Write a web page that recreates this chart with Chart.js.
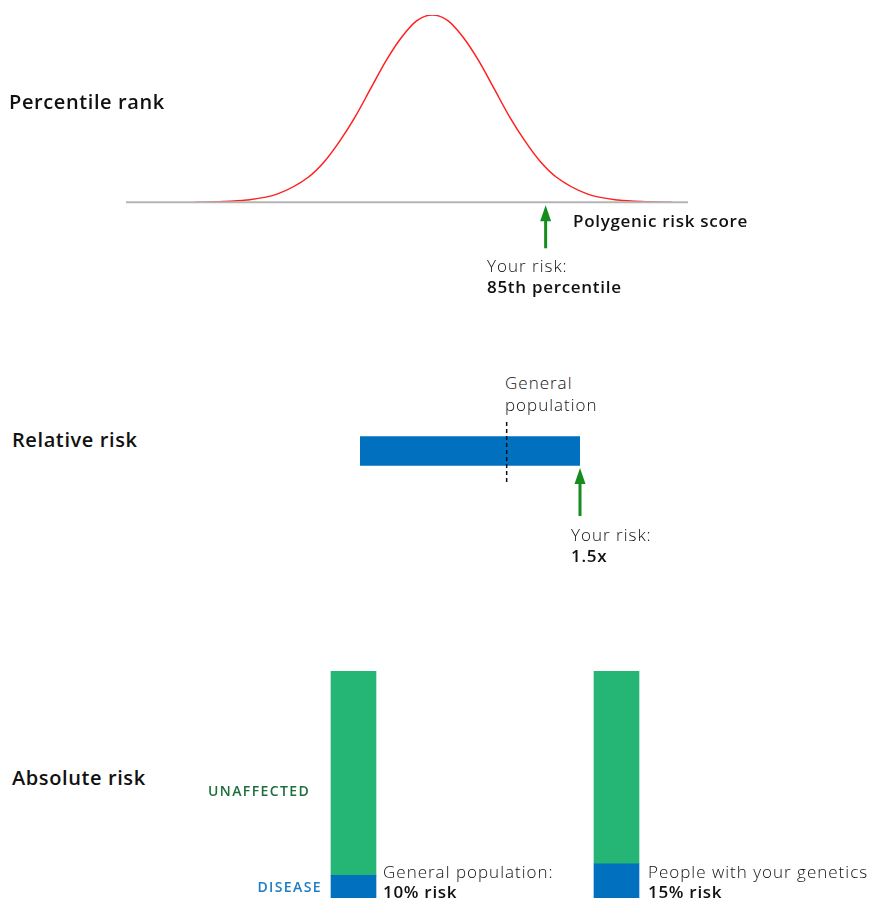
<!DOCTYPE html>
<html>
<head>
<meta charset="utf-8">
<script src="https://cdn.jsdelivr.net/npm/chart.js@4"></script>
<style>
  body { margin: 0; background: #fff; }
  #page { position: relative; width: 876px; height: 899px; overflow: hidden; font-family: 'Open Sans', sans-serif; color: #111; }
  canvas { position: absolute; }
  .lbl { position: absolute; white-space: nowrap; transform: translateY(-50%); line-height: 1; }
  .head { font-size: 20px; font-weight: 600; letter-spacing: 0.6px; }
  .txt { font-size: 17px; font-weight: 300; letter-spacing: 1px; }
  .bold { font-size: 17px; font-weight: 600; letter-spacing: 0.7px; }
  .cap { font-size: 14px; font-weight: 600; letter-spacing: 1.4px; }
</style>
</head>
<body>
<div id="page">
  <canvas id="cRank" style="left:120px; top:10px;" width="574" height="246"></canvas>
  <canvas id="cRel" style="left:340px; top:406px;" width="260" height="130"></canvas>
  <canvas id="cAbs" style="left:222px; top:665px;" width="526" height="234"></canvas>

  <div class="lbl head" style="left:9px; top:102px;">Percentile rank</div>
  <div class="lbl bold" style="left:573px; top:220px;">Polygenic risk score</div>
  <div class="lbl txt" style="left:487px; top:265px;">Your risk:</div>
  <div class="lbl bold" style="left:487px; top:286px;">85th percentile</div>

  <div class="lbl head" style="left:12px; top:440px;">Relative risk</div>
  <div class="lbl txt" style="left:505px; top:382px;">General</div>
  <div class="lbl txt" style="left:505px; top:404px;">population</div>
  <div class="lbl txt" style="left:571px; top:534px;">Your risk:</div>
  <div class="lbl bold" style="left:571px; top:555px;">1.5x</div>

  <div class="lbl head" style="left:12px; top:778px;">Absolute risk</div>
  <div class="lbl cap" style="left:208px; top:791px; color:#1d6f3e;">UNAFFECTED</div>
  <div class="lbl cap" style="right:554px; top:887px; color:#1c7cc6;">DISEASE</div>
  <div class="lbl txt" style="left:383px; top:871px;">General population:</div>
  <div class="lbl bold" style="left:383px; top:891px;">10% risk</div>
  <div class="lbl txt" style="left:648px; top:871px;">People with your genetics</div>
  <div class="lbl bold" style="left:648px; top:891px;">15% risk</div>
</div>

<script>
// percentile rank: score (in sd) vs relative density (% of peak)
const curveX = [-3.83, -3.5, -3, -2.5, -2, -1.75, -1.5, -1.25, -1, -0.75, -0.5, -0.25, 0, 0.25, 0.5, 0.75, 1, 1.25, 1.5, 1.75, 2, 2.5, 3, 3.5, 3.87]
const curveY = [0, 0.3, 1.2, 4.5, 13.5, 21.5, 32.5, 45.5, 60.5, 75.5, 88, 97, 100, 97, 88, 75.5, 60.5, 45.5, 32.5, 21.5, 13.5, 4.5, 1.2, 0.3, 0]
const scoreMin = -4.95
const scoreMax = 4.13
const yourScore = 1.83

// relative risk
const relCategories = ['Relative risk']
const relValues = [1.5]
const generalRel = 1.0

// absolute risk
const absCategories = ['General population', 'People with your genetics']
const diseasePct = [10, 15]
const unaffectedPct = [90, 85]

const GREEN_ARROW = '#168c1e'
const BLUE = '#0070bf'
const GREEN = '#25b574'

function drawArrow(ctx, x, yTip, len){
  ctx.save()
  ctx.fillStyle = GREEN_ARROW
  ctx.strokeStyle = GREEN_ARROW
  ctx.lineWidth = 3
  ctx.beginPath()
  ctx.moveTo(x, yTip + 12)
  ctx.lineTo(x, yTip + len)
  ctx.stroke()
  ctx.beginPath()
  ctx.moveTo(x, yTip)
  ctx.lineTo(x - 5.5, yTip + 16)
  ctx.lineTo(x + 5.5, yTip + 16)
  ctx.closePath()
  ctx.fill()
  ctx.restore()
}

const rankArrow = {
  id: 'rankArrow',
  afterDatasetsDraw(chart){
    const x = chart.scales.x.getPixelForValue(yourScore)
    const y = chart.scales.y.getPixelForValue(0)
    drawArrow(chart.ctx, x, y + 3, 43)
  }
}

const cRank = new Chart(document.querySelector('#cRank'), {
  type: 'line',
  data: {
    datasets: [{
      label: 'baseline',
      data: [{x: scoreMin, y: 0}, {x: scoreMax, y: 0}],
      borderColor: '#b5b5b5',
      borderWidth: 2,
      pointRadius: 0
    }, {
      label: 'distribution',
      data: curveX.map((x, i) => ({x, y: curveY[i]})),
      borderColor: '#ff2020',
      borderWidth: 1.5,
      pointRadius: 0,
      cubicInterpolationMode: 'monotone'
    }]
  },
  options: {
    responsive: false,
    animation: false,
    events: [],
    layout: { padding: { left: 6, right: 6, top: 5, bottom: 5 } },
    plugins: { legend: { display: false }, tooltip: { enabled: false } },
    scales: {
      x: { type: 'linear', min: scoreMin, max: scoreMax, display: false },
      y: { min: -26, max: 100, display: false }
    }
  },
  plugins: [rankArrow]
})

const relMarks = {
  id: 'relMarks',
  afterDatasetsDraw(chart){
    const ctx = chart.ctx
    const xs = chart.scales.x
    const yc = chart.scales.y.getPixelForValue(0)
    const xg = xs.getPixelForValue(generalRel)
    ctx.save()
    ctx.strokeStyle = '#111'
    ctx.lineWidth = 1.5
    ctx.setLineDash([4, 3])
    ctx.beginPath()
    ctx.moveTo(xg, yc - 29)
    ctx.lineTo(xg, yc + 31)
    ctx.stroke()
    ctx.restore()
    drawArrow(ctx, xs.getPixelForValue(relValues[0]), yc + 17, 48)
  }
}

const cRel = new Chart(document.querySelector('#cRel'), {
  type: 'bar',
  data: {
    labels: relCategories,
    datasets: [{ label: 'Relative risk', data: relValues, backgroundColor: BLUE, barThickness: 29 }]
  },
  options: {
    indexAxis: 'y',
    responsive: false,
    animation: false,
    events: [],
    layout: { padding: { left: 20, right: 20, top: 0, bottom: 40 } },
    plugins: { legend: { display: false }, tooltip: { enabled: false } },
    scales: {
      x: { min: 0, max: 1.5, display: false },
      y: { display: false }
    }
  },
  plugins: [relMarks]
})

const cAbs = new Chart(document.querySelector('#cAbs'), {
  type: 'bar',
  data: {
    labels: absCategories,
    datasets: [
      { label: 'DISEASE', data: diseasePct, backgroundColor: BLUE, barThickness: 45 },
      { label: 'UNAFFECTED', data: unaffectedPct, backgroundColor: GREEN, barThickness: 45 }
    ]
  },
  options: {
    responsive: false,
    animation: false,
    events: [],
    layout: { padding: { left: 0, right: 0, top: 6, bottom: 1 } },
    plugins: { legend: { display: false }, tooltip: { enabled: false } },
    scales: {
      x: { stacked: true, display: false },
      y: { stacked: true, min: 0, max: 100, display: false }
    }
  }
})
</script>
</body>
</html>
